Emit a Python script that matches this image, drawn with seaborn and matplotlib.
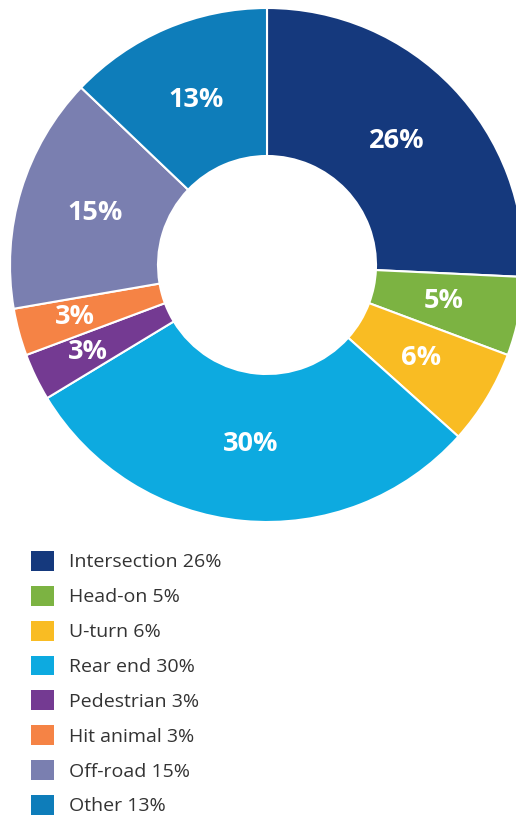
import numpy as np
import matplotlib
matplotlib.use("Agg")
import matplotlib.pyplot as plt
from matplotlib.patches import Patch
import seaborn as sns

# Crash types and their shares (%)
categories = ["Intersection", "Head-on", "U-turn", "Rear end",
              "Pedestrian", "Hit animal", "Off-road", "Other"]
shares = [26, 5, 6, 30, 3, 3, 15, 13]
colors = ["#15397D", "#7CB342", "#F9BC23", "#0DAAE0",
          "#743A92", "#F58345", "#7A7FB0", "#0E7DBA"]

sns.set_theme(style="white")
plt.rcParams["font.family"] = ["Open Sans", "DejaVu Sans"]

W, H = 516, 816
fig = plt.figure(figsize=(W / 100, H / 100), dpi=100)
fig.patch.set_facecolor("white")

# Donut axes: centre (267, 265) px, outer radius 257 px
cx, cy, R = 267, 265, 257
ax = fig.add_axes([(cx - R) / W, (H - cy - R) / H, 2 * R / W, 2 * R / H])

inner = 109 / R
wedges, _ = ax.pie(shares, colors=colors, startangle=90, counterclock=False,
                   radius=1.0,
                   wedgeprops=dict(width=1 - inner, edgecolor="white", linewidth=1.5))
ax.set_xlim(-1, 1)
ax.set_ylim(-1, 1)
ax.set_aspect("equal")
ax.axis("off")

total = float(sum(shares))
for w, v in zip(wedges, shares):
    mid = np.deg2rad((w.theta1 + w.theta2) / 2)
    r = 0.775 if v / total < 0.04 else 0.70
    ax.text(r * np.cos(mid), r * np.sin(mid), f"{v}%", ha="center", va="center",
            color="white", fontsize=19.5, fontweight="bold")

handles = [Patch(facecolor=c, edgecolor="none") for c in colors]
labels = [f"{c} {v}%" for c, v in zip(categories, shares)]
fig.legend(handles, labels, loc="upper left",
           bbox_to_anchor=(31 / W, 1 - 551 / H), frameon=False,
           fontsize=14, handlelength=1.19, handleheight=1.19,
           handletextpad=0.75, labelspacing=0.74, borderpad=0, borderaxespad=0,
           labelcolor="#333333")

fig.savefig("out.png", dpi=100, facecolor="white")
